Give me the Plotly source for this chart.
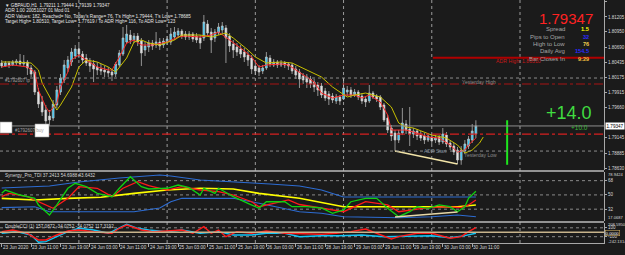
import plotly.graph_objects as go

# ---------------- data ----------------
tick_bars = [0, 8, 16, 24, 32, 40, 48, 56, 64, 72, 80, 88, 96, 104, 112, 120, 128]
tick_text = ["23 Jun 2020", "23 Jun 11:00", "23 Jun 19:00", "24 Jun 03:00", "24 Jun 11:00",
             "24 Jun 19:00", "25 Jun 03:00", "25 Jun 11:00", "25 Jun 19:00", "26 Jun 03:00",
             "26 Jun 11:00", "28 Jun 19:00", "29 Jun 03:00", "29 Jun 11:00", "29 Jun 19:00",
             "30 Jun 03:00", "30 Jun 11:00"]
day_start_bars = [21, 45, 69, 93, 117, 141]

opens = [1.80420, 1.80369, 1.80420, 1.80386, 1.80420, 1.80454, 1.80403, 1.80437, 1.80335, 1.80266,
         1.79925, 1.79755, 1.79619, 1.79516, 1.79482, 1.79704, 1.79925, 1.80130, 1.80335, 1.80437,
         1.80539, 1.80659, 1.80573, 1.80505, 1.80437, 1.80403, 1.80352, 1.80318, 1.80301, 1.80283,
         1.80266, 1.80232, 1.80386, 1.80573, 1.80778, 1.80897, 1.80812, 1.80880, 1.80795, 1.80642,
         1.80693, 1.80761, 1.80727, 1.80778, 1.80727, 1.80778, 1.80778, 1.80863, 1.80897, 1.80965,
         1.80914, 1.80863, 1.80914, 1.80880, 1.80846, 1.80846, 1.81085, 1.80948, 1.80846, 1.80931,
         1.80983, 1.81017, 1.80880, 1.80744, 1.80693, 1.80659, 1.80607, 1.80556, 1.80505, 1.80369,
         1.80335, 1.80283, 1.80335, 1.80505, 1.80386, 1.80437, 1.80386, 1.80420, 1.80403, 1.80386,
         1.80318, 1.80266, 1.80198, 1.80181, 1.80147, 1.80096, 1.80045, 1.80028, 1.79942, 1.79891,
         1.79857, 1.79772, 1.79840, 1.79806, 1.79925, 1.79960, 1.79874, 1.79925, 1.79857, 1.79806,
         1.79772, 1.79908, 1.79857, 1.79840, 1.79704, 1.79482, 1.79312, 1.79226, 1.79107, 1.79226,
         1.79380, 1.79295, 1.79209, 1.79260, 1.79209, 1.79175, 1.79107, 1.79158, 1.79107, 1.79158,
         1.79073, 1.79192, 1.79056, 1.79005, 1.78937, 1.78766, 1.78919, 1.79005, 1.79107, 1.79211]
highs = [1.80471, 1.80454, 1.80454, 1.80471, 1.80488, 1.80573, 1.80556, 1.80471, 1.80386, 1.80301,
         1.79994, 1.79857, 1.79704, 1.79619, 1.79789, 1.80028, 1.80232, 1.80471, 1.80539, 1.80676,
         1.80727, 1.80727, 1.80624, 1.80573, 1.80505, 1.80471, 1.80437, 1.80403, 1.80369, 1.80352,
         1.80318, 1.80437, 1.80642, 1.81034, 1.81068, 1.80983, 1.80931, 1.80931, 1.80846, 1.80778,
         1.80812, 1.80812, 1.80948, 1.80846, 1.80846, 1.80880, 1.81017, 1.81034, 1.81017, 1.80999,
         1.80965, 1.80965, 1.80948, 1.80931, 1.80897, 1.81238, 1.81153, 1.81017, 1.80999, 1.81102,
         1.81119, 1.81068, 1.80931, 1.80812, 1.80761, 1.80727, 1.80676, 1.80624, 1.80556, 1.80437,
         1.80386, 1.80386, 1.80607, 1.80556, 1.80488, 1.80471, 1.80471, 1.80454, 1.80437, 1.80420,
         1.80369, 1.80318, 1.80249, 1.80232, 1.80198, 1.80147, 1.80096, 1.80079, 1.79994, 1.79942,
         1.79908, 1.79891, 1.79874, 1.80164, 1.80028, 1.80011, 1.79977, 1.79960, 1.79908, 1.79857,
         1.80045, 1.79942, 1.79891, 1.79874, 1.79738, 1.79533, 1.79363, 1.79278, 1.79278, 1.79653,
         1.79448, 1.79670, 1.79312, 1.79295, 1.79260, 1.79226, 1.79226, 1.79209, 1.79192, 1.79192,
         1.79312, 1.79243, 1.79107, 1.79056, 1.78988, 1.79005, 1.79107, 1.79175, 1.79380, 1.79444]
lows = [1.80335, 1.80352, 1.80335, 1.80369, 1.80386, 1.80369, 1.80369, 1.80215, 1.80181, 1.79874,
        1.79653, 1.79516, 1.79346, 1.79346, 1.79431, 1.79653, 1.79874, 1.80079, 1.80266, 1.80369,
        1.80488, 1.80505, 1.80403, 1.80369, 1.80266, 1.80096, 1.80215, 1.80215, 1.80181, 1.80181,
        1.80113, 1.80181, 1.80352, 1.80539, 1.80744, 1.80744, 1.80761, 1.80710, 1.80369, 1.80539,
        1.80607, 1.80642, 1.80676, 1.80642, 1.80676, 1.80727, 1.80727, 1.80812, 1.80846, 1.80829,
        1.80812, 1.80812, 1.80778, 1.80761, 1.80659, 1.80795, 1.80880, 1.80590, 1.80778, 1.80897,
        1.80914, 1.80420, 1.80607, 1.80505, 1.80539, 1.80505, 1.80437, 1.80369, 1.80232, 1.80215,
        1.80198, 1.80232, 1.80301, 1.80352, 1.80352, 1.80335, 1.80352, 1.80335, 1.80301, 1.80232,
        1.80147, 1.79994, 1.80062, 1.79994, 1.79994, 1.79925, 1.79857, 1.79823, 1.79772, 1.79704,
        1.79738, 1.79721, 1.79704, 1.79789, 1.79857, 1.79823, 1.79840, 1.79789, 1.79721, 1.79670,
        1.79738, 1.79806, 1.79755, 1.79619, 1.79414, 1.79226, 1.79090, 1.78919, 1.79056, 1.79192,
        1.79209, 1.79005, 1.79141, 1.79107, 1.79090, 1.79039, 1.79073, 1.79039, 1.79056, 1.79022,
        1.79039, 1.78988, 1.78937, 1.78851, 1.78698, 1.78685, 1.78868, 1.78954, 1.79056, 1.79139]
closes = [1.80369, 1.80420, 1.80386, 1.80437, 1.80454, 1.80403, 1.80437, 1.80335, 1.80232, 1.79925,
          1.79721, 1.79584, 1.79431, 1.79448, 1.79721, 1.79960, 1.80164, 1.80386, 1.80471, 1.80607,
          1.80659, 1.80573, 1.80471, 1.80420, 1.80369, 1.80318, 1.80301, 1.80283, 1.80266, 1.80249,
          1.80215, 1.80403, 1.80590, 1.80846, 1.80914, 1.80812, 1.80880, 1.80778, 1.80590, 1.80710,
          1.80761, 1.80710, 1.80778, 1.80710, 1.80795, 1.80829, 1.80914, 1.80948, 1.80965, 1.80880,
          1.80863, 1.80914, 1.80829, 1.80812, 1.80761, 1.81119, 1.80931, 1.80812, 1.80948, 1.81034,
          1.81051, 1.80846, 1.80710, 1.80642, 1.80607, 1.80573, 1.80522, 1.80471, 1.80318, 1.80283,
          1.80266, 1.80335, 1.80522, 1.80403, 1.80437, 1.80386, 1.80420, 1.80386, 1.80369, 1.80283,
          1.80215, 1.80147, 1.80130, 1.80096, 1.80062, 1.80011, 1.79960, 1.79874, 1.79823, 1.79806,
          1.79789, 1.79840, 1.79772, 1.79994, 1.79960, 1.79874, 1.79925, 1.79840, 1.79772, 1.79755,
          1.79908, 1.79840, 1.79806, 1.79670, 1.79448, 1.79278, 1.79175, 1.79107, 1.79226, 1.79397,
          1.79278, 1.79209, 1.79260, 1.79175, 1.79141, 1.79107, 1.79175, 1.79090, 1.79141, 1.79073,
          1.79209, 1.79039, 1.78988, 1.78902, 1.78766, 1.78937, 1.79039, 1.79124, 1.79260, 1.79347]

red_ma_x = [0, 3, 7, 9, 10, 12, 13, 15, 16, 18, 19, 21, 23, 26, 29, 30, 32, 34, 36, 38,
            41, 45, 48, 50, 54, 57, 59, 62, 65, 68, 70, 72, 76, 78, 81, 85, 87, 90, 93, 96,
            98, 100, 103, 105, 106, 108, 110, 113, 116, 119, 122, 124, 126, 127, 129]
red_ma_y = [1.80352, 1.80386, 1.80352, 1.80266, 1.79959, 1.79670, 1.79584, 1.79738, 1.80011, 1.80266,
            1.80471, 1.80556, 1.80471, 1.80352, 1.80301, 1.80301, 1.80522, 1.80761, 1.80812, 1.80727,
            1.80727, 1.80778, 1.80863, 1.80880, 1.80863, 1.80897, 1.80948, 1.80812, 1.80676, 1.80522,
            1.80352, 1.80386, 1.80403, 1.80386, 1.80266, 1.80096, 1.79908, 1.79823, 1.79874, 1.79874,
            1.79823, 1.79874, 1.79755, 1.79533, 1.79277, 1.79277, 1.79277, 1.79226, 1.79158, 1.79141,
            1.79022, 1.78902, 1.78936, 1.79022, 1.79141]
yel_ma_x = [0, 3, 8, 10, 11, 13, 15, 16, 19, 21, 23, 26, 29, 31, 34, 36, 38, 40, 43, 47,
            49, 54, 57, 61, 63, 67, 69, 72, 76, 79, 83, 87, 90, 94, 96, 99, 103, 106, 108, 110,
            112, 115, 117, 121, 124, 126, 128, 130, 131]
yel_ma_y = [1.80437, 1.80437, 1.80420, 1.80301, 1.80079, 1.79840, 1.79618, 1.79704, 1.80011, 1.80352,
            1.80471, 1.80437, 1.80352, 1.80266, 1.80505, 1.80778, 1.80812, 1.80761, 1.80727, 1.80812,
            1.80897, 1.80897, 1.80863, 1.80931, 1.80846, 1.80642, 1.80522, 1.80420, 1.80437, 1.80420,
            1.80301, 1.80181, 1.80011, 1.79840, 1.79874, 1.79908, 1.79840, 1.79670, 1.79397, 1.79329,
            1.79312, 1.79243, 1.79192, 1.79141, 1.79022, 1.78885, 1.78936, 1.79056, 1.79158]

# Synergy TDI panel
tdi_green_x = [0, 1, 5, 9, 10, 13, 15, 18, 20, 23, 26, 30, 32, 35, 38, 40, 45, 48, 51, 54,
               55, 58, 59, 63, 67, 70, 72, 77, 79, 83, 87, 90, 93, 95, 99, 102, 105, 108, 111, 113,
               116, 119, 122, 124, 126, 127, 129]
tdi_green_y = [52.0, 56.2, 49.9, 45.7, 37.3, 24.6, 37.3, 58.4, 64.7, 60.4, 52.0, 47.8, 58.4, 73.0, 60.4,
               57.5, 58.4, 62.5, 59.1, 49.9, 58.4, 52.0, 58.4, 47.8, 39.4, 33.1, 41.4, 41.4, 35.1, 35.1,
               33.5, 26.8, 31.0, 41.4, 45.7, 45.7, 33.1, 22.5, 28.8, 35.1, 33.1, 37.3, 35.1, 28.8, 35.1,
               45.7, 54.7]
tdi_red_x = [0, 2, 7, 10, 14, 18, 21, 26, 30, 33, 37, 40, 45, 49, 54, 59, 63, 68, 70, 74,
             78, 81, 87, 93, 99, 105, 108, 111, 116, 121, 125, 127, 129]
tdi_red_y = [47.8, 52.0, 47.8, 41.4, 33.1, 45.7, 60.4, 58.4, 47.8, 58.4, 66.7, 61.7, 56.2, 60.4, 56.2,
             54.1, 49.9, 41.4, 35.1, 39.4, 43.6, 37.9, 33.1, 28.8, 41.4, 37.3, 28.8, 31.0, 33.9, 35.1,
             33.9, 37.3, 43.6]
tdi_yel_x = [0, 9, 18, 27, 36, 45, 54, 63, 70, 81, 93, 104, 113, 124, 129]
tdi_yel_y = [45.7, 43.6, 45.7, 47.0, 52.0, 56.2, 58.4, 57.5, 52.0, 45.7, 35.1, 35.1, 34.4, 35.1, 37.2]
tdi_up_x = [0, 8, 13, 21, 32, 43, 46, 54, 65, 73, 81, 87, 93, 113, 129]
tdi_up_y = [58.7, 60.0, 61.3, 66.3, 71.4, 75.2, 73.9, 68.8, 66.3, 63.8, 61.3, 56.2, 47.4, 47.4, 47.4]
tdi_lo_x = [0, 9, 13, 22, 36, 43, 46, 49, 63, 70, 81, 87, 93, 108, 117, 124, 129]
tdi_lo_y = [33.9, 35.1, 28.8, 28.8, 28.8, 33.5, 41.4, 45.7, 45.7, 39.4, 28.8, 26.8, 22.5, 21.2, 22.5,
            24.6, 22.5]
tdi_trend_x = [107, 124]
tdi_trend_y = [22.1, 28.4]
tdi_levels = [68, 50, 32]
tdi_min, tdi_max = 17.0687, 78.9424

# DoubleCCI panel
cci_cyan_x = [0, 4, 8, 10, 12, 15, 18, 21, 25, 29, 31, 34, 37, 40, 45, 49, 54, 59, 63, 68,
              72, 77, 81, 87, 92, 98, 104, 111, 117, 122, 126, 129]
cci_cyan_y = [-23.2, 12.9, -61.4, -225.6, -212.2, -99.7, 12.9, 89.4, 51.1, -23.2, 51.1, 179.4, 89.4,
              51.1, 12.9, 51.1, -23.2, 12.9, -61.4, -61.4, -23.2, -23.2, -99.7, -77.2, -77.2, -61.4,
              -99.7, -83.9, -77.2, -122.2, -77.2, -23.2]
cci_red_x = [0, 3, 7, 10, 12, 15, 18, 21, 25, 30, 32, 34, 38, 41, 45, 49, 52, 55, 57, 59,
             61, 64, 68, 72, 77, 81, 87, 91, 95, 99, 101, 103, 106, 108, 113, 117, 122, 125, 127, 129]
cci_red_y = [12.9, 51.1, -23.2, -173.9, -173.9, -61.4, 28.6, 51.1, 12.9, -23.2, 89.4, 163.6, 51.1,
             12.9, 28.6, 51.1, -23.2, 125.3, -23.2, 51.1, -99.7, 12.9, -23.2, 28.6, -23.2, -38.0,
             -45.7, -23.2, 12.9, 73.6, 12.9, -61.4, -151.4, -99.7, -23.2, -23.2, -135.6, -99.7, 12.9,
             102.9]
cci_levels = [100, -100]
cci_min, cci_max = -242.1314, 208.5950

# levels / info
main_ticks = [1.81465, 1.81205, 1.80950, 1.80690, 1.80435, 1.80175, 1.79915, 1.79660,
              1.79145, 1.78885, 1.78630]
bid = 1.79347
adr_high = 1.80510
yesterday_high = 1.80164
yesterday_low = 1.78919
order_tp = 1.80062
order_buy = 1.79209
day_high = 1.79444
day_low = 1.78685
header_lines = ["\u25bc GBPAUD,H1  1.79211 1.79444 1.79139 1.79347",
                "ADR 1.00 20051027 01 Mod 01",
                "ADR Values: 182, Reached= No, Today's Range= 76, T's High= 1.79444, T's Low= 1.78685",
                "Target High= 1.80510, Target Low= 1.77619 / To ADR High= 116, To ADR Low= 123"]
info_labels = ["Spread", "Pips to Open", "High to Low", "Daily Avg", "Bar Closes In"]
info_values = ["1.5", "32", "76", "154.5", "9:29"]
info_colors = ["#ffff00", "#2b2bff", "#f0d050", "#2b2bff", "#f0c040"]

# ---------------- geometry ----------------
W, H = 625, 255
MR, MB = 21, 12
PW, PH = W - MR, H - MB
FONT = "Liberation Sans, Arial, sans-serif"
BG = "#1b1b1b"
AX = "#a8a8a8"
TXT = "#d8d8d8"


def py(p):
    return 1 - p / PH


def pxp(p):
    return p / PW


bars = list(range(len(opens)))
xrange_ = [-0.46, 163.85]

fig = go.Figure()
fig.add_trace(go.Candlestick(
    x=bars, open=opens, high=highs, low=lows, close=closes,
    increasing=dict(line=dict(color="#c8c8c8", width=0.7), fillcolor="#1ec8ff"),
    decreasing=dict(line=dict(color="#c8c8c8", width=0.7), fillcolor="#e8e8e8"),
    whiskerwidth=0, xaxis="x", yaxis="y", showlegend=False, hoverinfo="skip"))
fig.add_trace(go.Scatter(x=red_ma_x, y=red_ma_y, mode="lines", line=dict(color="#ff2a2a", width=1),
                         xaxis="x", yaxis="y", showlegend=False))
fig.add_trace(go.Scatter(x=yel_ma_x, y=yel_ma_y, mode="lines", line=dict(color="#c8c000", width=1),
                         xaxis="x", yaxis="y", showlegend=False))
fig.add_trace(go.Scatter(x=[107, 124], y=[lows[107], lows[124]], mode="lines",
                         line=dict(color="#f2e4a8", width=1.5), xaxis="x", yaxis="y", showlegend=False))
fig.add_trace(go.Scatter(x=[137.5, 137.5], y=[day_low, day_high], mode="lines",
                         line=dict(color="#1ee61e", width=2), xaxis="x", yaxis="y", showlegend=False))

# TDI
for xs, ys, col, w in [(tdi_up_x, tdi_up_y, "#2d6cd2", 1.1), (tdi_lo_x, tdi_lo_y, "#2d6cd2", 1.1),
                       (tdi_yel_x, tdi_yel_y, "#ffff00", 1.6), (tdi_red_x, tdi_red_y, "#ff1a1a", 1.3),
                       (tdi_green_x, tdi_green_y, "#10d010", 1.3), (tdi_trend_x, tdi_trend_y, "#e6d8a8", 1.4)]:
    fig.add_trace(go.Scatter(x=xs, y=ys, mode="lines", line=dict(color=col, width=w),
                             xaxis="x", yaxis="y2", showlegend=False))
# CCI
for xs, ys, col in [(cci_cyan_x, cci_cyan_y, "#12c4f5"), (cci_red_x, cci_red_y, "#ff1a1a")]:
    fig.add_trace(go.Scatter(x=xs, y=ys, mode="lines", line=dict(color=col, width=1.4),
                             xaxis="x", yaxis="y3", showlegend=False))

shapes = []
# day separators (grid)
for b in day_start_bars:
    shapes.append(dict(type="line", xref="x", yref="paper", x0=b, x1=b, y0=0, y1=1,
                       line=dict(color="#9c9c9c", width=1, dash="dot"), layer="below"))
# main panel horizontal levels
shapes += [
    dict(type="line", xref="paper", yref="y", x0=0, x1=1, y0=yesterday_high, y1=yesterday_high,
         line=dict(color="#8c8c8c", width=1, dash="dot")),
    dict(type="line", xref="paper", yref="y", x0=0, x1=1, y0=yesterday_low, y1=yesterday_low,
         line=dict(color="#8c8c8c", width=1, dash="dot")),
    dict(type="line", xref="paper", yref="y", x0=0, x1=1, y0=order_tp, y1=order_tp,
         line=dict(color="#a81414", width=1.2, dash="dashdot")),
    dict(type="line", xref="paper", yref="y", x0=0, x1=1, y0=order_buy, y1=order_buy,
         line=dict(color="#d82020", width=1.2, dash="dashdot")),
    dict(type="line", xref="paper", yref="y", x0=0, x1=1, y0=bid, y1=bid,
         line=dict(color="#8e8e8e", width=1)),
    dict(type="line", xref="x", yref="y", x0=117.3, x1=xrange_[1], y0=adr_high, y1=adr_high,
         line=dict(color="#b00000", width=2)),
]
for lv in tdi_levels:
    shapes.append(dict(type="line", xref="paper", yref="y2", x0=0, x1=1, y0=lv, y1=lv,
                       line=dict(color="#8a8a8a", width=1, dash="dot"), layer="below"))
for lv in cci_levels:
    shapes.append(dict(type="line", xref="paper", yref="y3", x0=0, x1=1, y0=lv, y1=lv,
                       line=dict(color="#8a8a8a", width=1, dash="dot"), layer="below"))
shapes.append(dict(type="line", xref="paper", yref="y3", x0=0, x1=1, y0=0, y1=0,
                   line=dict(color="#c8b48c", width=1.5)))
# panel separators
for p in [171, 222]:
    shapes.append(dict(type="line", xref="paper", yref="paper", x0=0, x1=1, y0=py(p), y1=py(p),
                       line=dict(color="#bdbdbd", width=1.5)))
# order tag boxes
shapes += [
    dict(type="rect", xref="paper", yref="paper", x0=pxp(0), x1=pxp(12), y0=py(133), y1=py(122),
         fillcolor="#ffffff", line=dict(color="#9a9a9a", width=0.6)),
    dict(type="rect", xref="paper", yref="paper", x0=pxp(35), x1=pxp(49), y0=py(137), y1=py(124),
         fillcolor="#ffffff", line=dict(color="#9a9a9a", width=0.6)),
]

ann = []


def text(t, x, y, size, color, xanchor="left", yanchor="middle", **kw):
    d = dict(text=t, x=pxp(x), y=py(y), xref="paper", yref="paper", showarrow=False,
             xanchor=xanchor, yanchor=yanchor, font=dict(size=size, color=color, family=FONT))
    d.update(kw)
    ann.append(d)


for i, line in enumerate(header_lines):
    text(line, 3, [5, 10.8, 16.3, 21.8][i], 4.6, "#e6e6e6")
# x labels
for b, t in zip(tick_bars, tick_text):
    ann.append(dict(text=t, x=b, y=py(247.5), xref="x", yref="paper", showarrow=False,
                    xanchor="left", yanchor="middle", xshift=-1,
                    font=dict(size=4.6, color=TXT, family=FONT)))
# right info block
text("1.79347", 595, 18, 15, "#ff2222", xanchor="right")
for i, (lab, val, col) in enumerate(zip(info_labels, info_values, info_colors)):
    yy = 29 + 7.5 * i
    text(lab, 567, yy, 6, "#a6a6a6", xanchor="right")
    text("<b>" + val + "</b>", 591, yy, 5.6, col, xanchor="right")
text("+14.0", 594, 113.5, 18, "#40dc40", xanchor="right")
text("+10.0", 590, 127.8, 6.5, "#38b838", xanchor="right")
text("ADR High: 1.80510", 494, 61.2, 5.2, "#c81818")
text("Yesterday High", 460, 81.5, 5, "#8a8a8a")
text("ADR Start", 422, 151, 5, "#7f8c99")
text("Yesterday Low", 462, 154.8, 5, "#8a8a8a")
text("#1792607 tp", 3, 81, 4.5, "#a0a0a0")
text("#1792607 buy", 13, 130.5, 4.5, "#a0a0a0")
text("Synergy_Pro_TDI 37.2413 54.6988 43.6432", 3, 175.8, 4.6, TXT)
text("DoubleCCI (1) 157.0872 -34.0752 -34.0752 117.3192", 3, 226.6, 4.6, TXT)
# right axis extra labels
for t, yy in [("78.9424", 174.3), ("17.0687", 217.5), ("208.5950", 224.6), ("-242.1314", 241.3)]:
    text(t, 605.5, yy, 4.1, TXT)
text("0.0000", 605, 232.7, 4.3, "#ffffff", bgcolor=BG, bordercolor="#c8a860", borderwidth=0.6,
     borderpad=0)
ann.append(dict(text="1.79347", x=pxp(605), y=bid, xref="paper", yref="y", showarrow=False,
                xanchor="left", yanchor="middle", bgcolor="#ffffff", borderpad=0.5,
                font=dict(size=4.6, color="#000000", family=FONT)))

axis_common = dict(showgrid=False, zeroline=False, side="right", anchor="x", showline=True,
                   linecolor=AX, linewidth=1, ticks="outside", ticklen=2, tickcolor=AX,
                   tickfont=dict(size=4.5, color=TXT, family=FONT), fixedrange=True)

fig.update_layout(
    width=W, height=H, margin=dict(l=0, r=MR, t=0, b=MB),
    paper_bgcolor=BG, plot_bgcolor=BG, showlegend=False,
    xaxis=dict(domain=[0, 1], range=xrange_, anchor="y3", showticklabels=False, ticks="outside",
               ticklen=3, tickcolor=AX, tickvals=tick_bars, showgrid=False, zeroline=False,
               showline=True, linecolor=AX, rangeslider=dict(visible=False), fixedrange=True),
    yaxis=dict(domain=[py(170), 1], range=[1.78596, 1.81494], tickvals=main_ticks,
               ticktext=[f"{v:.5f}" for v in main_ticks], **axis_common),
    yaxis2=dict(domain=[py(221), py(172)], range=[tdi_min, tdi_max], tickvals=tdi_levels,
                ticktext=[str(v) for v in tdi_levels], **axis_common),
    yaxis3=dict(domain=[0, py(223)], range=[cci_min, cci_max], tickvals=cci_levels,
                ticktext=[str(v) for v in cci_levels], **axis_common),
    shapes=shapes, annotations=ann,
)

fig.write_html("out.html")
